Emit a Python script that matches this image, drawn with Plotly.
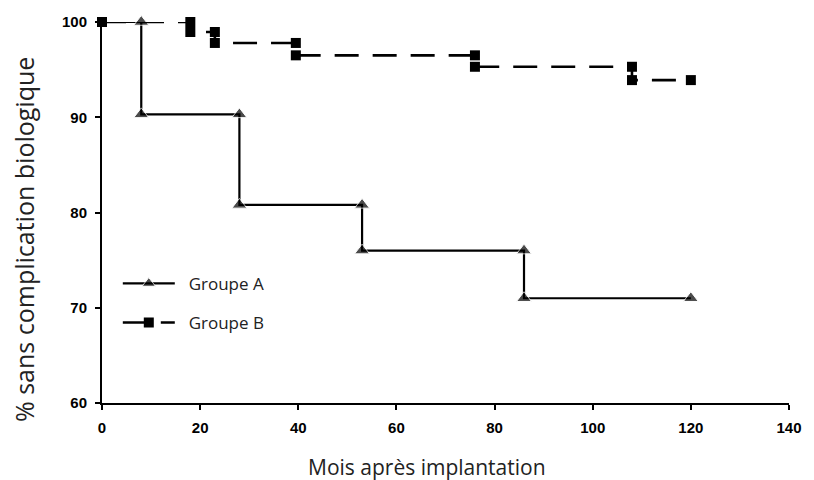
import plotly.graph_objects as go

# Group A (triangles) - Kaplan-Meier steps
a_months = [0, 8, 8, 28, 28, 53, 53, 86, 86, 120]
a_pct = [100, 100, 90.3, 90.3, 80.8, 80.8, 76.0, 76.0, 71.0, 71.0]
a_marker = [0, 13, 13, 13, 13, 13, 13, 13, 13, 13]

# Group B (squares)
b_months = [0, 18, 18, 23, 23, 39.5, 39.5, 76, 76, 108, 108, 120]
b_pct = [100, 100, 98.95, 98.95, 97.8, 97.8, 96.5, 96.5, 95.3, 95.3, 93.9, 93.9]

x_ticks = [0, 20, 40, 60, 80, 100, 120, 140]
y_ticks = [60, 70, 80, 90, 100]

NB = "\u00a0\u00a0"

fig = go.Figure()
fig.add_trace(go.Scatter(
    x=a_months, y=a_pct, name=NB + "Groupe A", mode="lines+markers", legendgroup="a",
    line=dict(color="black", width=2.2),
    marker=dict(symbol="triangle-up", size=a_marker, color="black"),
    cliponaxis=False,
))
fig.add_trace(go.Scatter(
    x=b_months, y=b_pct, name=NB + "Groupe B", mode="lines+markers", legendgroup="b",
    line=dict(color="black", width=2.6, dash="24px,14px"),
    marker=dict(symbol="square", size=10, color="black"),
    cliponaxis=False,
))

fig.update_layout(
    width=814, height=480,
    margin=dict(l=102, r=16, t=22, b=77),
    paper_bgcolor="white", plot_bgcolor="white",
    showlegend=True,
    legend=dict(
        x=0.023, y=0.36, xanchor="left", yanchor="top",
        bgcolor="rgba(0,0,0,0)",
        font=dict(family="Open Sans, sans-serif", size=17, color="#222"),
        tracegroupgap=14, itemwidth=52,
    ),
    xaxis=dict(
        range=[0, 140], tickvals=x_ticks, ticks="outside", ticklen=5,
        tickwidth=2, tickcolor="black", ticklabelstandoff=5,
        showline=True, linecolor="black", linewidth=2, showgrid=False, zeroline=False,
        tickfont=dict(family="Liberation Sans, Arial, sans-serif", size=15, color="black", weight="bold"),
    ),
    yaxis=dict(
        range=[60, 100], tickvals=y_ticks, ticks="outside", ticklen=5,
        tickwidth=2, tickcolor="black", ticklabelstandoff=5,
        showline=True, linecolor="black", linewidth=2, showgrid=False, zeroline=False,
        tickfont=dict(family="Liberation Sans, Arial, sans-serif", size=15, color="black", weight="bold"),
    ),
    annotations=[
        dict(
            text="% sans complication biologique", textangle=-90,
            xref="paper", yref="paper", x=-0.1135, y=0.428,
            xanchor="center", yanchor="middle", showarrow=False,
            font=dict(family="Open Sans, sans-serif", size=25, color="#222"),
        ),
        dict(
            text="Mois après implantation",
            xref="paper", yref="paper", x=0.473, y=-0.168,
            xanchor="center", yanchor="middle", showarrow=False,
            font=dict(family="Open Sans, sans-serif", size=21, color="#222"),
        ),
    ],
)

fig.write_html("out.html")
